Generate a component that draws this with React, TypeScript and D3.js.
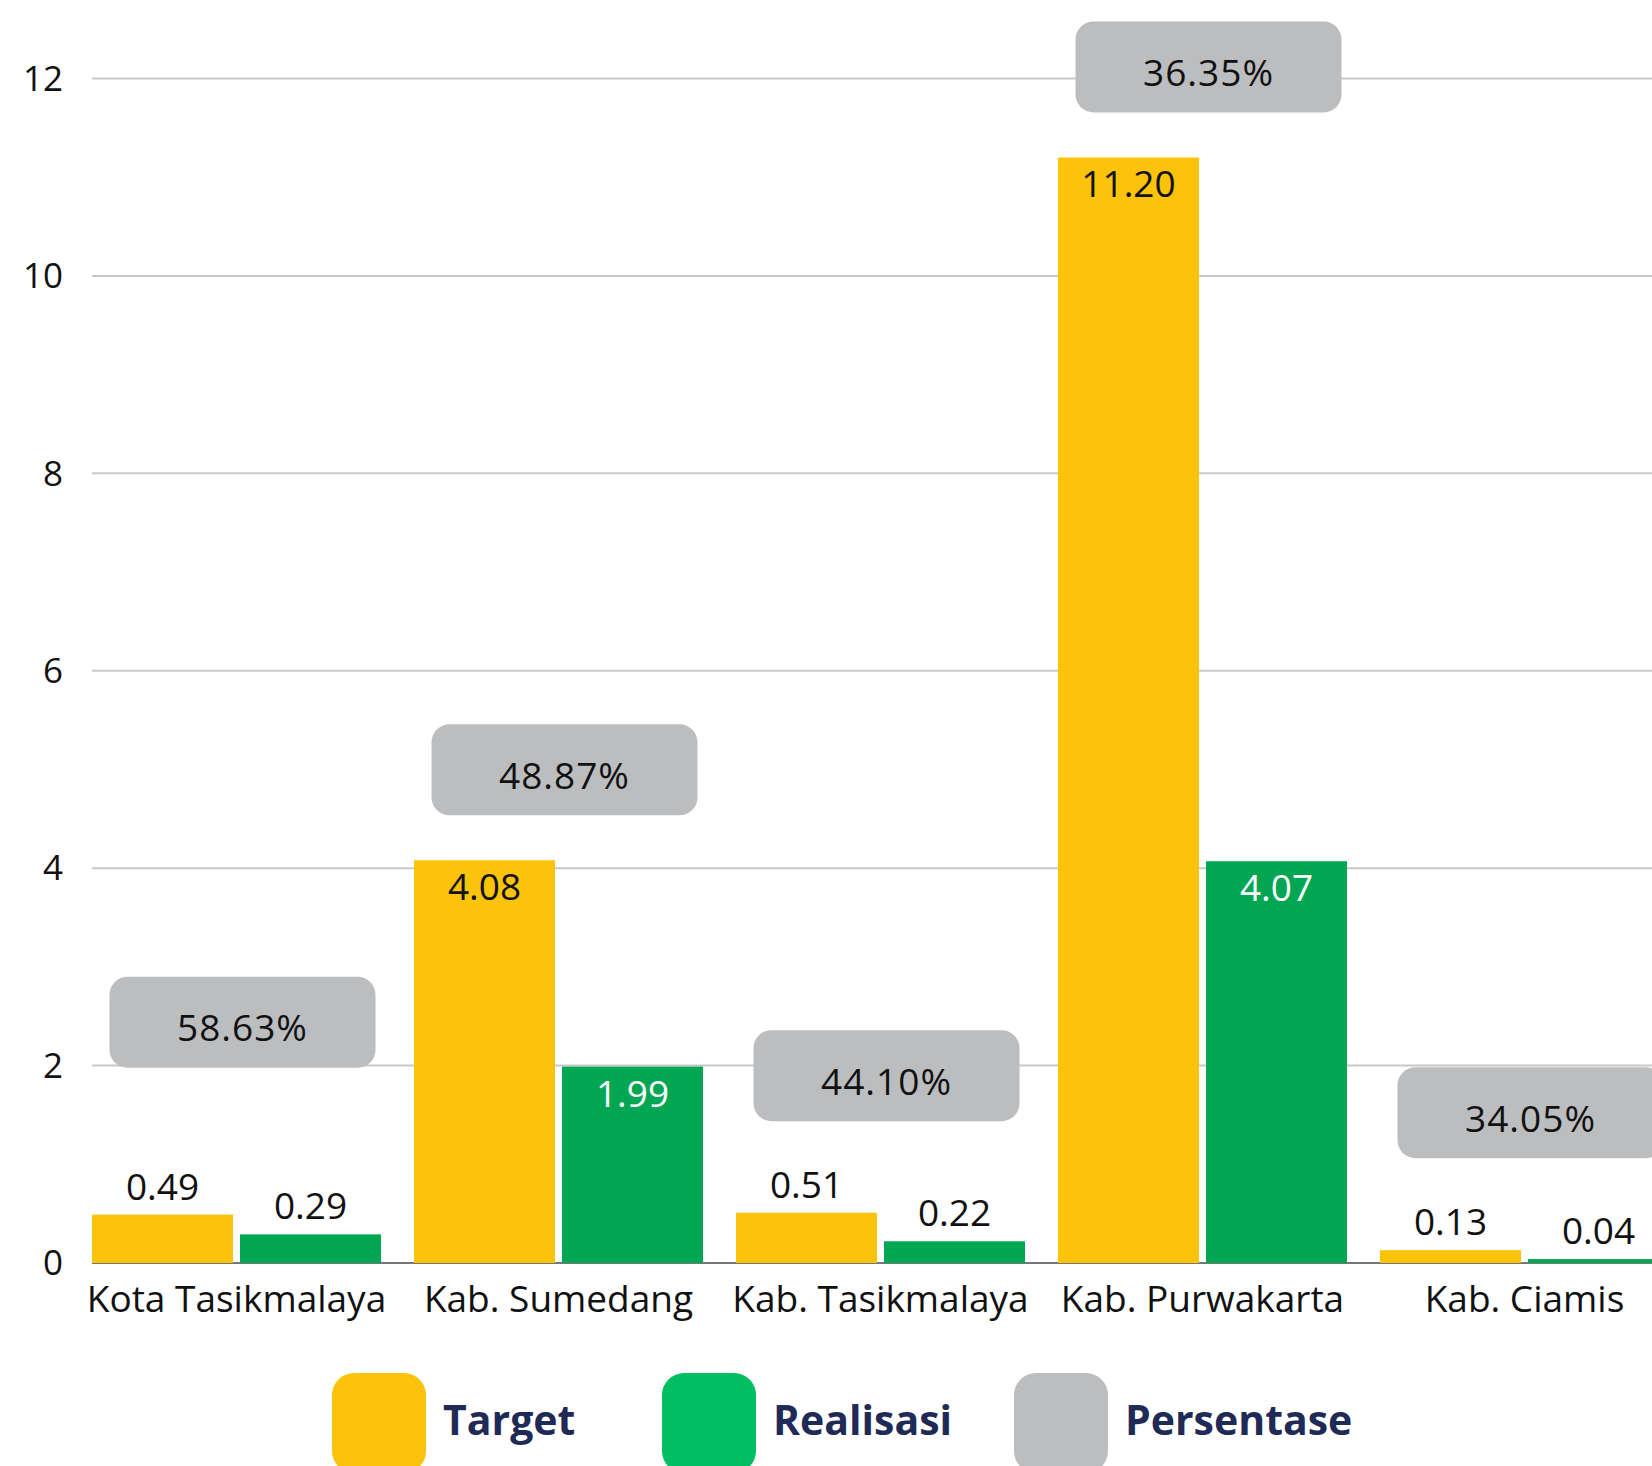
import React from "react";
import { scaleBand, scaleLinear, max } from "d3";

// data
const categories = ["Kota Tasikmalaya", "Kab. Sumedang", "Kab. Tasikmalaya", "Kab. Purwakarta", "Kab. Ciamis"];
const series = ["Target", "Realisasi"];
const target = [0.49, 4.08, 0.51, 11.2, 0.13];
const realisasi = [0.29, 1.99, 0.22, 4.07, 0.04];
const persentase = [58.63, 48.87, 44.1, 36.35, 34.05];
const yTicks = [0, 2, 4, 6, 8, 10, 12];

const W = 1652;
const H = 1466;
const FONT = "'Open Sans', 'Noto Sans', sans-serif";
const colors = { Target: "#FBC30A", Realisasi: "#00A651", Persentase: "#BCBDBF" };
const legendColors = ["#FBC30A", "#00BF63", "#BCBDBF"];

export default function App() {
  const left = 92;
  const yScale = scaleLinear().domain([0, 12]).range([1263, 78.5]);
  // secondary scale for the percentage labels
  const pScale = scaleLinear().domain([0, 100]).range([1238, 870]);

  const x0 = scaleBand().domain(categories).range([left, 1669]).paddingInner(0.1025).paddingOuter(0);
  const x1 = scaleBand().domain(series).range([0, x0.bandwidth()]).paddingInner(0.0473);

  const boxW = 266;
  const boxH = 91;

  const rows = categories.map((c, i) => ({ c, vals: [target[i], realisasi[i]], p: persentase[i] }));

  return (
    <div style={{ position: "absolute", left: 0, top: 0 }}>
      <svg width={W} height={H} style={{ display: "block", background: "#fff" }}>
        {/* grid */}
        {yTicks.map(t => (
          <g key={t}>
            {t > 0 && <line x1={left} x2={W} y1={yScale(t)} y2={yScale(t)} stroke="#C8C8C8" strokeWidth={2} />}
            <text x={63} y={yScale(t)} dy="0.35em" textAnchor="end" fontFamily={FONT} fontSize={35} fill="#111">
              {t}
            </text>
          </g>
        ))}
        <line x1={left} x2={W} y1={yScale(0)} y2={yScale(0)} stroke="#777" strokeWidth={2} />

        {/* bars */}
        {rows.map(r => (
          <g key={r.c} transform={`translate(${x0(r.c)},0)`}>
            {r.vals.map((v, j) => {
              const s = series[j];
              const top = yScale(v);
              const h = yScale(0) - top;
              const inside = h > 60;
              const cx = (x1(s) || 0) + x1.bandwidth() / 2;
              return (
                <g key={s}>
                  <rect x={x1(s)} y={top} width={x1.bandwidth()} height={h} fill={colors[s]} />
                  <text
                    x={cx}
                    y={inside ? top + 40 : top - 15}
                    textAnchor="middle"
                    fontFamily={FONT}
                    fontSize={37}
                    fill={inside && s === "Realisasi" ? "#fff" : "#111"}
                  >
                    {v.toFixed(2)}
                  </text>
                </g>
              );
            })}
          </g>
        ))}

        {/* percentage labels */}
        {rows.map(r => {
          const cx = (x0(r.c) || 0) + x0.bandwidth() / 2;
          const barTop = yScale(max(r.vals) || 0);
          let cy = pScale(r.p);
          if (cy + boxH / 2 > barTop - 45) cy = barTop - 45 - boxH / 2;
          return (
            <g key={"p" + r.c}>
              <rect x={cx - boxW / 2 + 6} y={cy - boxH / 2} width={boxW} height={boxH} rx={18} fill={colors.Persentase} />
              <text
                x={cx + 6}
                y={cy + 19}
                textAnchor="middle"
                fontFamily={FONT}
                fontSize={37}
                letterSpacing={1}
                fill="#111"
              >
                {r.p.toFixed(2)}%
              </text>
            </g>
          );
        })}

        {/* category axis */}
        {categories.map(c => (
          <text
            key={"c" + c}
            x={(x0(c) || 0) + x0.bandwidth() / 2}
            y={1312}
            textAnchor="middle"
            fontFamily={FONT}
            fontSize={37}
            fill="#111"
          >
            {c}
          </text>
        ))}

        {/* legend */}
        {[
          { name: "Target", x: 332 },
          { name: "Realisasi", x: 662 },
          { name: "Persentase", x: 1014 },
        ].map((l, i) => (
          <g key={l.name}>
            <rect x={l.x} y={1373} width={94} height={100} rx={22} fill={legendColors[i]} />
            <text x={l.x + 111} y={1435} fontFamily={FONT} fontWeight={700} fontSize={41} fill="#1F2A56">
              {l.name}
            </text>
          </g>
        ))}
      </svg>
    </div>
  );
}
